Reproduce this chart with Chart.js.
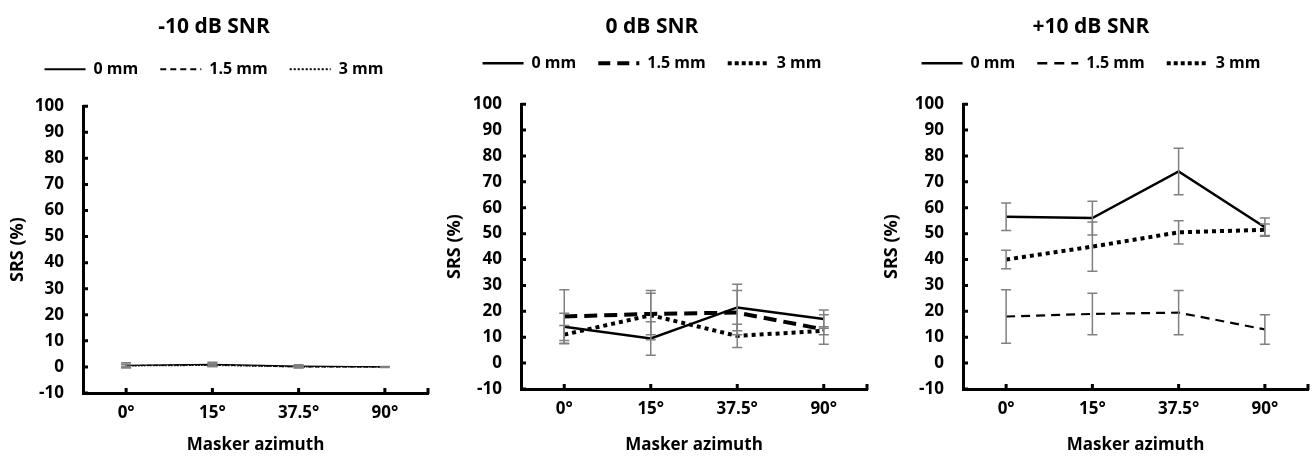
<!DOCTYPE html>
<html><head><meta charset="utf-8">
<script src="https://cdn.jsdelivr.net/npm/chart.js@4.4.1/dist/chart.umd.min.js"></script>
<style>
html,body{margin:0;padding:0;background:#fff;}
.p{position:absolute;top:0;height:459px;}
canvas{display:block;}
</style></head><body>
<div class="p" style="left:0;width:437px"><canvas id="c1" width="437" height="459"></canvas></div>
<div class="p" style="left:437px;width:437px"><canvas id="c2" width="437" height="459"></canvas></div>
<div class="p" style="left:874px;width:438px"><canvas id="c3" width="438" height="459"></canvas></div>
<script>
// ---- data ----
const categories = ['0°', '15°', '37.5°', '90°'];
const seriesLabels = ['0 mm', '1.5 mm', '3 mm'];
const panelTitles = ['-10 dB SNR', '0 dB SNR', '+10 dB SNR'];

// -10 dB SNR
const neg10_0mm = [0.6, 1.0, 0.3, 0.0];
const neg10_0mm_err = [1.0, 0.8, 0.5, 0.2];
const neg10_15mm = [0.5, 0.8, 0.0, 0.0];
const neg10_15mm_err = [0.5, 0.5, 0.3, 0.0];
const neg10_3mm = [0.4, 0.6, 0.0, 0.0];
const neg10_3mm_err = [0.4, 0.4, 0.3, 0.0];

// 0 dB SNR
const zero_0mm = [14, 9.5, 21.5, 17];
const zero_0mm_err = [5.3, 6.5, 9, 3.5];
const zero_15mm = [18, 19, 19.5, 13];
const zero_15mm_err = [10.3, 8, 8.5, 5.7];
const zero_3mm = [11, 18.5, 10.5, 12.5];
const zero_3mm_err = [3.5, 9.5, 4.5, 1.5];

// +10 dB SNR
const pos10_0mm = [56.5, 56, 74, 52.5];
const pos10_0mm_err = [5.3, 6.5, 9, 3.5];
const pos10_15mm = [18, 19, 19.5, 13];
const pos10_15mm_err = [10.3, 8, 8.5, 5.7];
const pos10_3mm = [40, 45, 50.5, 51.5];
const pos10_3mm_err = [3.6, 9.5, 4.5, 2.2];

const yMin = -10, yMax = 100, yStep = 10;

// ---- rendering ----
const FONT = '"Open Sans", sans-serif';

const errorBars = {
  id: 'errorBars',
  afterDatasetsDraw(chart) {
    const {ctx, scales: {x, y}} = chart;
    ctx.save();
    ctx.strokeStyle = '#808080';
    ctx.lineWidth = 1.5;
    ctx.setLineDash([]);
    chart.data.datasets.forEach(ds => {
      ds.data.forEach((v, i) => {
        const e = ds.errors[i];
        if (!e) return;
        const px = x.getPixelForValue(i);
        const t = y.getPixelForValue(v + e), b = y.getPixelForValue(v - e);
        ctx.beginPath();
        ctx.moveTo(px, t); ctx.lineTo(px, b);
        ctx.moveTo(px - 5, t); ctx.lineTo(px + 5, t);
        ctx.moveTo(px - 5, b); ctx.lineTo(px + 5, b);
        ctx.stroke();
      });
    });
    ctx.restore();
  }
};

const tickMarks = {
  id: 'tickMarks',
  afterDraw(chart) {
    const {ctx, scales: {x, y}, chartArea: ca} = chart;
    ctx.save();
    ctx.strokeStyle = '#000';
    ctx.lineWidth = 3;
    ctx.setLineDash([]);
    ctx.beginPath();
    y.ticks.forEach(t => {
      const py = y.getPixelForValue(t.value);
      ctx.moveTo(ca.left, py); ctx.lineTo(ca.left + 5, py);
    });
    x.ticks.forEach((t, i) => {
      const px = x.getPixelForValue(i);
      ctx.moveTo(px, ca.bottom); ctx.lineTo(px, ca.bottom - 5);
    });
    ctx.moveTo(ca.right, ca.bottom + 1); ctx.lineTo(ca.right, ca.bottom - 5);
    ctx.stroke();
    ctx.restore();
  }
};

// extra space below the legend
const legendGap = {
  id: 'legendGap',
  beforeLayout(chart, args, opts) {
    const lg = chart.legend;
    if (lg && !lg._gapPatched) {
      const orig = lg.fit.bind(lg);
      lg.fit = function () { orig(); this.height += opts.extra || 0; };
      lg._gapPatched = true;
    }
  }
};

function makeChart(id, titleText, series, geom) {
  new Chart(document.getElementById(id), {
    type: 'line',
    data: {
      labels: categories,
      datasets: series.map((s, k) => ({
        label: seriesLabels[k], data: s.data, errors: s.err,
        borderColor: '#000', backgroundColor: '#000',
        borderWidth: s.w, borderDash: s.dash, borderCapStyle: 'butt',
        legendWidth: s.lw, legendDash: s.ldash,
        pointRadius: 0, pointHoverRadius: 0, tension: 0, fill: false
      }))
    },
    options: {
      responsive: false, animation: false,
      layout: {padding: {left: 0, right: geom.padRight, top: geom.padTop, bottom: 0}},
      plugins: {
        title: {display: true, text: titleText, color: '#000',
          font: {family: FONT, size: 21, weight: 'bold', lineHeight: 1.2}, padding: {top: 0, bottom: geom.titleGap}},
        legend: {display: true,
          labels: {color: '#000', font: {family: FONT, size: 16, weight: 'bold'},
            usePointStyle: true, pointStyle: 'line', pointStyleWidth: 41, padding: geom.legPad,
            generateLabels(chart) {
              return chart.data.datasets.map((ds, i) => ({
                text: ds.label, fillStyle: '#000', strokeStyle: '#000', fontColor: '#000',
                lineWidth: ds.legendWidth, lineDash: ds.legendDash, lineCap: 'butt',
                pointStyle: 'line', hidden: false, datasetIndex: i
              }));
            }}},
        legendGap: {extra: geom.legExtra},
        tooltip: {enabled: false}
      },
      scales: {
        x: {
          type: 'category', offset: true,
          grid: {display: false, drawTicks: false},
          border: {display: true, color: '#000', width: 3},
          ticks: {color: '#000', font: {family: FONT, size: 17, weight: 'bold'}, padding: 10, maxRotation: 0},
          title: {display: true, text: 'Masker azimuth', color: '#000',
            font: {family: FONT, size: 17, weight: 'bold'}, padding: {top: 0, bottom: 4}},
          afterFit(s) { s.height = geom.xH; }
        },
        y: {
          min: yMin, max: yMax,
          grid: {display: false, drawTicks: false},
          border: {display: true, color: '#000', width: 3},
          ticks: {stepSize: yStep, color: '#000', font: {family: FONT, size: 17, weight: 'bold'}, padding: 19},
          title: {display: true, text: 'SRS (%)', color: '#000',
            font: {family: FONT, size: 18, weight: 'bold'}, padding: {top: 7, bottom: 0}},
          afterFit(s) { s.width = geom.yW; }
        }
      }
    },
    plugins: [legendGap, errorBars, tickMarks]
  });
}

makeChart('c1', panelTitles[0], [
  {data: neg10_0mm, err: neg10_0mm_err, w: 1.2, dash: [], lw: 2, ldash: []},
  {data: neg10_15mm, err: neg10_15mm_err, w: 1.2, dash: [4, 3], lw: 2, ldash: [6, 4]},
  {data: neg10_3mm, err: neg10_3mm_err, w: 1.2, dash: [1.5, 1.5], lw: 2, ldash: [2, 2]}
], {padRight: 9, padTop: 14, titleGap: 0, legPad: 22, legExtra: 19, yW: 83, xH: 66});

makeChart('c2', panelTitles[1], [
  {data: zero_0mm, err: zero_0mm_err, w: 2.5, dash: [], lw: 2.5, ldash: []},
  {data: zero_15mm, err: zero_15mm_err, w: 4, dash: [13, 7], lw: 4, ldash: [12, 7]},
  {data: zero_3mm, err: zero_3mm_err, w: 4, dash: [4, 4], lw: 4, ldash: [4, 3]}
], {padRight: 7, padTop: 14, titleGap: -6, legPad: 22, legExtra: 23, yW: 84, xH: 70});

makeChart('c3', panelTitles[2], [
  {data: pos10_0mm, err: pos10_0mm_err, w: 2.5, dash: [], lw: 2.5, ldash: []},
  {data: pos10_15mm, err: pos10_15mm_err, w: 2.2, dash: [9, 6], lw: 2.5, ldash: [10, 7]},
  {data: pos10_3mm, err: pos10_3mm_err, w: 4, dash: [4, 4], lw: 4, ldash: [4, 3]}
], {padRight: 4, padTop: 14, titleGap: -6, legPad: 22, legExtra: 23, yW: 89, xH: 70});
</script>
</body></html>
